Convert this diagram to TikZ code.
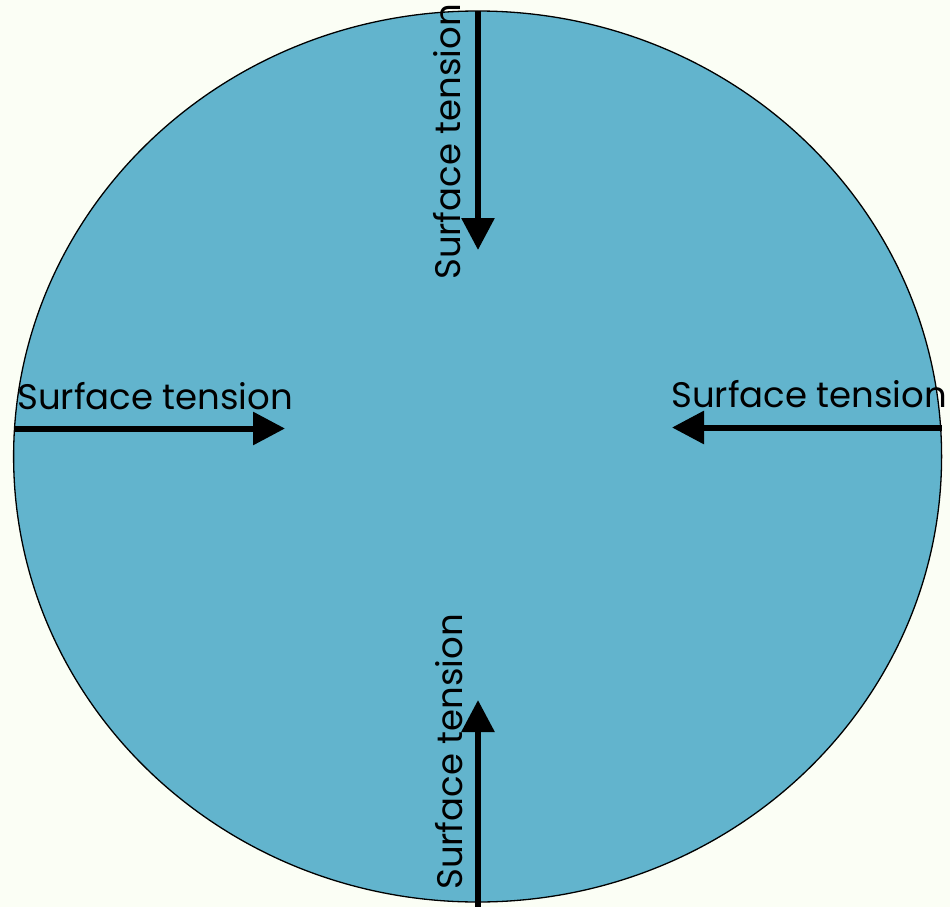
\documentclass[tikz,border=0pt]{standalone}
\usepackage{fontspec}
\setmainfont{Poppins}
\usetikzlibrary{arrows.meta}
\definecolor{bgcol}{RGB}{251,254,245}
\definecolor{dropcol}{RGB}{98,180,205}
\tikzset{
  force/.style={line width=6pt, -{Triangle[length=32pt,width=32pt]}},
  lbl/.style={inner sep=0pt, font=\fontsize{35.5}{42}\selectfont, text=black},
}
\begin{document}
\begin{tikzpicture}[x=1pt,y=-1pt]
\fill[bgcol] (0,0) rectangle (950,907);
\useasboundingbox (0,0) rectangle (950,907);
\draw[fill=dropcol, line width=1.3pt] (477.6,456.5) ellipse [x radius=464pt, y radius=445.5pt];
\coordinate (ctop) at (478,11);
\coordinate (tiptop) at (478,250);
\coordinate (cleft) at (14,428.5);
\coordinate (tipleft) at (285,428.5);
\coordinate (cright) at (942,427.5);
\coordinate (tipright) at (672,427.5);
\coordinate (cbot) at (478,907);
\coordinate (tipbot) at (478,700);
\draw[force] (ctop) -- (tiptop);
\draw[force] (cleft) -- (tipleft);
\draw[force] (cright) -- (tipright);
\draw[force] (cbot) -- (tipbot);
\node[lbl, anchor=base west] (tleft) at (17,409) {Surface tension};
\node[lbl, anchor=base west] (tright) at (671,407) {Surface tension};
\node[lbl, anchor=base west, rotate=90] (ttop) at (460,280) {Surface tension};
\node[lbl, anchor=base west, rotate=90] (tbot) at (462,890) {Surface tension};
\end{tikzpicture}
\end{document}
